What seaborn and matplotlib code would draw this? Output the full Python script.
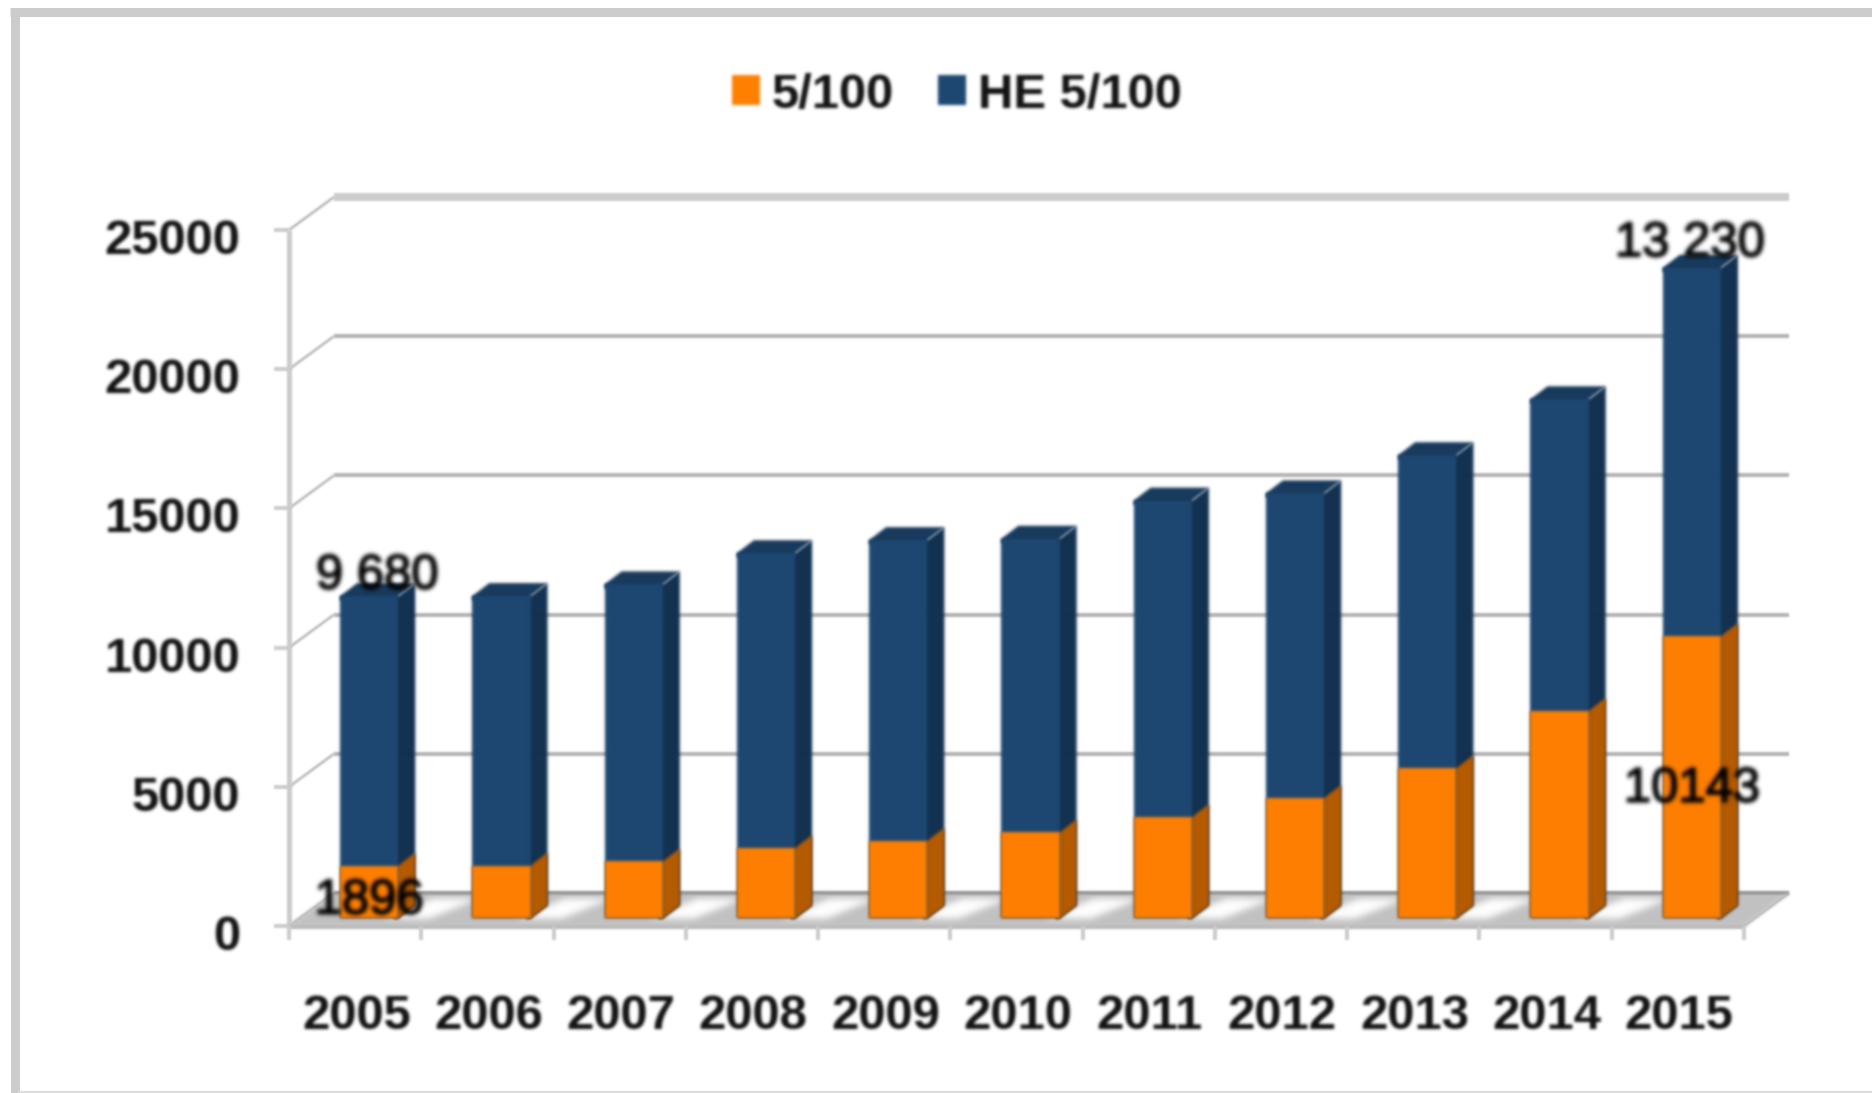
import numpy as np
import pandas as pd
import matplotlib
matplotlib.use("Agg")
import matplotlib.pyplot as plt
import matplotlib.patheffects as pe
import seaborn as sns
from matplotlib.lines import Line2D
from matplotlib.patches import Polygon
from matplotlib.transforms import Affine2D, IdentityTransform

# values
years = ["2005", "2006", "2007", "2008", "2009", "2010", "2011", "2012", "2013", "2014", "2015"]
std_100 = [1896, 1900, 2050, 2530, 2790, 3090, 3640, 4330, 5400, 7460, 10143]
he_100 = [9680, 9680, 9950, 10590, 10800, 10550, 11370, 10940, 11240, 11190, 13230]
y_ticks = [0, 5000, 10000, 15000, 20000, 25000]

ORANGE = "#ff7f00"
ORANGE_SIDE = "#b65b00"
BLUE = "#1c4670"
BLUE_SIDE = "#12304f"
BLUE_TOP = "#17395c"
GREY = "#cccccc"
FONT_PT = 35.3

# depth of the fake 3D, in pixels, relative to the plane the bars stand in
FRONT = (-14, -7.5)
BACK = (31, 25.5)
BAR_DEPTH = (17, 13)


def blur(sigma):
    # the source is an upscaled screenshot, so everything is a bit soft
    radius = int(3 * sigma) + 1
    kernel = np.exp(-0.5 * (np.arange(-radius, radius + 1) / sigma) ** 2)
    kernel /= kernel.sum()

    def smooth(arr):
        for axis in (0, 1):
            arr = np.apply_along_axis(np.convolve, axis, arr, kernel, mode="same")
        return arr

    def apply(image, dpi):
        im = np.pad(image, ((radius, radius), (radius, radius), (0, 0)))
        alpha = im[..., 3]
        rgb = im[..., :3] * alpha[..., None]
        out = np.zeros_like(im)
        out_alpha = smooth(alpha)
        for c in range(3):
            out[..., c] = smooth(rgb[..., c]) / np.maximum(out_alpha, 1e-4)
        out[..., 3] = out_alpha
        return np.clip(out, 0, 1), -radius, -radius

    return apply


sns.set_style("white")
plt.rcParams["font.family"] = ["Liberation Sans", "DejaVu Sans"]

fig = plt.figure(figsize=(18.72, 10.9301), dpi=100)
ax = fig.add_axes([303 / 1872, 1 - 918.5 / 1093, 1455 / 1872, 696 / 1093])
ax.patch.set_visible(False)

df = pd.DataFrame({"year": years, "5/100": std_100, "HE 5/100": he_100})
df["total"] = df["5/100"] + df["HE 5/100"]

sns.barplot(data=df, x="year", y="total", color=BLUE, saturation=1, width=0.44, ax=ax, label="HE 5/100", zorder=2)
sns.barplot(data=df, x="year", y="5/100", color=ORANGE, saturation=1, width=0.44, ax=ax, label="5/100", zorder=2)
ax.set_xlim(-0.5, 10.5)
ax.set_ylim(0, 25000)
ax.set_xlabel("")
ax.set_ylabel("")
ax.set_yticks(y_ticks)
sns.despine(ax=ax, left=True, bottom=True, top=True, right=True)


def px(x, y):
    return ax.transData.transform((x, y))


def add_px_poly(points, color, zorder, sigma=1.5):
    poly = Polygon(points, closed=True, facecolor=color, edgecolor="none",
                   transform=IdentityTransform(), zorder=zorder, clip_on=False)
    poly.set_agg_filter(blur(sigma))
    ax.add_patch(poly)


def add_px_line(p0, p1, color, width_px, zorder=0.6, sigma=1.0):
    line = Line2D([p0[0], p1[0]], [p0[1], p1[1]], color=color, lw=width_px * 0.72,
                  transform=IdentityTransform(), zorder=zorder, solid_capstyle="butt")
    line.set_agg_filter(blur(sigma))
    ax.add_line(line)
    line.set_clip_on(False)


# floor
p_left, p_right = px(-0.5, 0), px(10.5, 0)
f0 = np.array(FRONT)
b0 = np.array(BACK)
add_px_poly([p_left + f0, p_left + b0, p_right + b0, p_right + f0], "#c2c2c2", 0.2, sigma=2)
for i in range(10):
    c = px(i + 0.5, 0)
    add_px_poly([c + (-52, 0), c + (-6, 0), c + (44, 20), c + (-2, 20)], "white", 0.3, sigma=3.5)

# back wall lines, diagonals and short ticks on the front edge
for v in y_ticks:
    p = px(-0.5, v)
    lw = 8 if v == 25000 else 4
    col = GREY if v == 25000 else ("#9a9a9a" if v == 0 else "#b4b4b4")
    add_px_line(px(-0.5, v) + b0, px(10.5, v) + b0, col, lw)
    add_px_line(p + f0, p + b0, "#b8b8b8", 2.5)
    add_px_line(p + f0 + (-15, 0), p + f0, GREY, 4)

add_px_line(px(-0.5, 0) + f0, px(-0.5, 25000) + f0, GREY, 5)
add_px_line(p_left + f0, p_right + f0, "#bdbdbd", 5)
add_px_line(p_right + f0, p_right + b0, "#b8b8b8", 2.5)
for i in range(12):
    p = px(i - 0.5, 0) + f0
    add_px_line(p, p + (0, -14), GREY, 4)

# side and top faces of the bars, taken from the bars seaborn drew
depth = np.array(BAR_DEPTH)
n = len(years)
blue_bars = ax.patches[:n]
orange_bars = ax.patches[n:2 * n]
for bar, side_col, has_top in [(b, BLUE_SIDE, True) for b in blue_bars] + [(b, ORANGE_SIDE, False) for b in orange_bars]:
    x0, x1 = bar.get_x(), bar.get_x() + bar.get_width()
    h = bar.get_height()
    bl, br, tl, tr = px(x0, 0), px(x1, 0), px(x0, h), px(x1, h)
    z = 1.0 if has_top else 1.2
    add_px_poly([br + (-4, 0), br, br + depth, tr + depth, tr, tr + (-4, 0)], side_col, z)
    if has_top:
        add_px_poly([tl + (0, -4), tl, tl + depth, tr + depth, tr, tr + (0, -4)], BLUE_TOP, z)

for bar in ax.patches[:2 * n]:
    bar.set_edgecolor("none")
    bar.set_agg_filter(blur(1.5))

# tick labels
ax.tick_params(axis="both", length=0, labelsize=FONT_PT, labelcolor="#111111")
ax.tick_params(axis="y", pad=45)
ax.tick_params(axis="x", pad=54)
for label in ax.get_yticklabels():
    label.set_fontweight("bold")
    label.set_transform(label.get_transform() + Affine2D().translate(0, -14))
    label.set_agg_filter(blur(1.5))
for label in ax.get_xticklabels():
    label.set_fontweight("bold")
    label.set_transform(label.get_transform() + Affine2D().translate(-13, 0))
    label.set_agg_filter(blur(1.5))

# value labels on first and last year only
totals = df["total"].tolist()
notes = [
    ("9 680", 0, totals[0], (8, 20)),
    ("1896", 0, std_100[0] / 2, (0, -9)),
    ("13 230", 10, totals[10], (-2, 24)),
    ("10143", 10, std_100[10] / 2, (0, -12)),
]
for text, x, y, off in notes:
    t = ax.annotate(text, (x, y), xytext=(off[0] * 0.72, off[1] * 0.72), textcoords="offset points",
                    ha="center", va="center", fontsize=FONT_PT, color="black", zorder=5,
                    annotation_clip=False)
    t.set_path_effects([pe.withStroke(linewidth=1.2, foreground="black")])
    t.set_agg_filter(blur(1.5))

# legend, orange first like the source
handles, labels = ax.get_legend_handles_labels()
leg = ax.legend(handles[::-1], labels[::-1], ncol=2, frameon=False, prop={"size": FONT_PT, "weight": "bold"},
                handlelength=0.57, handleheight=0.57, handletextpad=0.25, columnspacing=0.9,
                borderpad=0, loc="center", bbox_to_anchor=(957 / 1872, 1 - 95 / 1093),
                bbox_transform=fig.transFigure, labelcolor="#111111")
leg.set_agg_filter(blur(1.5))

# outer frame of the screenshot
fig.add_artist(Line2D([10 / 1872, 1], [1 - 12.5 / 1093] * 2, color=GREY, lw=9 * 0.72, solid_capstyle="butt"))
fig.add_artist(Line2D([14.5 / 1872] * 2, [0, 1 - 8 / 1093], color=GREY, lw=9 * 0.72, solid_capstyle="butt"))
fig.add_artist(Line2D([19 / 1872, 1], [1 / 1093] * 2, color="#dddddd", lw=1.5))

fig.savefig("out.png", dpi=100)
